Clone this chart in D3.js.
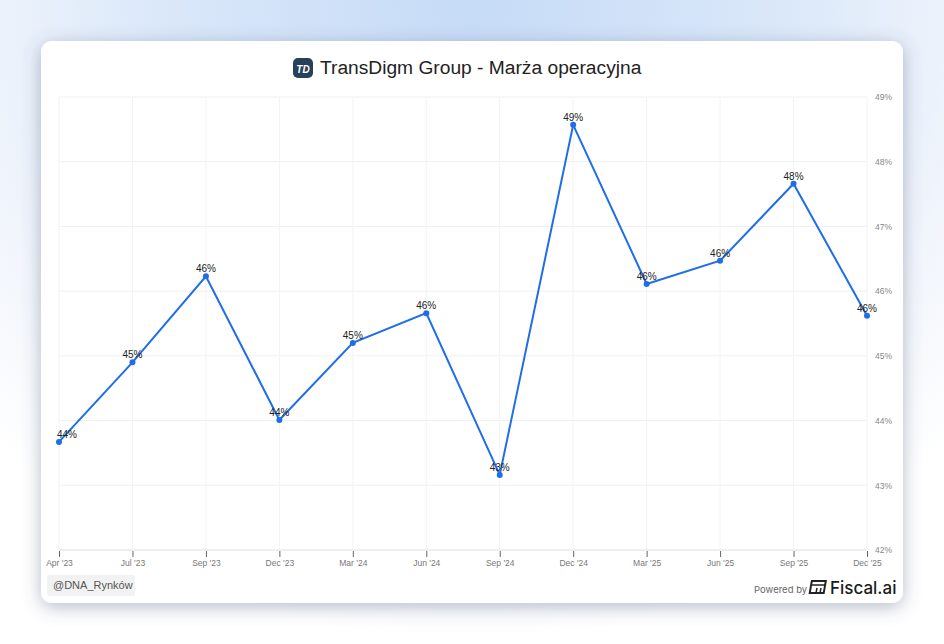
<!DOCTYPE html>
<html><head><meta charset="utf-8">
<script src="https://cdn.jsdelivr.net/npm/d3@7"></script>
<style>
html,body{margin:0;padding:0;width:944px;height:644px;overflow:hidden;font-family:Arial,"Liberation Sans",sans-serif;}
body{background:radial-gradient(ellipse 70% 100% at 50% 0%, #c6dbf7 0%, #d9e7f9 45%, #f1f5fc 78%, #ffffff 100%);}
</style></head><body>
<svg id="c" width="944" height="644"></svg>
<script>
const categories = ["Apr '23","Jul '23","Sep '23","Dec '23","Mar '24","Jun '24","Sep '24","Dec '24","Mar '25","Jun '25","Sep '25","Dec '25"];
const margins = [43.67,44.90,46.23,44.01,45.20,45.66,43.16,48.57,46.11,46.47,47.66,45.62];
const yTicks = [42,43,44,45,46,47,48,49];
const title = "TransDigm Group - Marża operacyjna";

const svg = d3.select("#c");
const defs = svg.append("defs");
const f = defs.append("filter").attr("id","sh").attr("x","-10%").attr("y","-10%").attr("width","120%").attr("height","130%");
f.append("feDropShadow").attr("dx",0).attr("dy",4).attr("stdDeviation",9).attr("flood-color","#4a5a78").attr("flood-opacity",0.4);

svg.append("rect").attr("x",41).attr("y",41).attr("width",862).attr("height",562).attr("rx",11).attr("fill","#fff").attr("filter","url(#sh)");

const x = d3.scalePoint().domain(categories).range([59,867]);
const y = d3.scaleLinear().domain([42,49]).range([550,97]);

const g = svg.append("g");
g.selectAll(".hg").data(yTicks).join("line").attr("x1",59).attr("x2",867).attr("y1",d=>y(d)).attr("y2",d=>y(d)).attr("stroke","#f0f0f0").attr("stroke-width",1);
g.selectAll(".vg").data(categories).join("line").attr("x1",d=>x(d)).attr("x2",d=>x(d)).attr("y1",97).attr("y2",550).attr("stroke","#f3f3f3").attr("stroke-width",1);
g.append("line").attr("x1",59).attr("x2",867).attr("y1",550).attr("y2",550).attr("stroke","#e6e6e6");

const xa = svg.append("g").attr("transform","translate(0,550)").call(d3.axisBottom(x).tickSize(6).tickPadding(4));
xa.select(".domain").remove();
xa.selectAll(".tick line").attr("stroke","#666").attr("transform","translate(0,1)");
xa.selectAll(".tick text").attr("fill","#777").attr("font-size","8.5px").attr("font-family","Arial, 'Liberation Sans', sans-serif");

const ya = svg.append("g").attr("transform","translate(867,0)").call(d3.axisRight(y).tickValues(yTicks).tickSize(0).tickPadding(8).tickFormat(d=>d+"%"));
ya.select(".domain").remove();
ya.selectAll(".tick text").attr("fill","#888").attr("font-size","8.5px").attr("font-family","Arial, 'Liberation Sans', sans-serif");

const pts = categories.map((c,i)=>({c,v:margins[i],i}));
svg.append("path").datum(pts).attr("fill","none").attr("stroke","#1f6ee8").attr("stroke-width",2)
  .attr("d", d3.line().x(d=>x(d.c)).y(d=>y(d.v)));
svg.selectAll(".pt").data(pts).join("circle").attr("cx",d=>x(d.c)).attr("cy",d=>y(d.v)).attr("r",3).attr("fill","#1f6ee8");
svg.selectAll(".lb").data(pts).join("text").attr("x",d=>x(d.c) + (d.i===0?8:0)).attr("y",d=>y(d.v)-4)
  .attr("text-anchor","middle").attr("font-size","10px").attr("fill","#222").attr("font-family","Arial, 'Liberation Sans', sans-serif")
  .text(d=>Math.round(d.v)+"%");

const tg = svg.append("g");
tg.append("rect").attr("x",293).attr("y",58).attr("width",20).attr("height",20).attr("rx",5).attr("fill","#27415a");
tg.append("text").attr("x",303).attr("y",72.5).attr("text-anchor","middle").attr("font-size","10px").attr("font-style","italic").attr("font-weight","bold").attr("fill","#fff").attr("font-family","Arial, sans-serif").text("TD");
tg.append("text").attr("x",320).attr("y",74).attr("font-size","19.2px").attr("fill","#222").attr("font-family","Arial, 'Liberation Sans', sans-serif").text(title);

svg.append("rect").attr("x",47).attr("y",575).attr("width",88).attr("height",21).attr("rx",2).attr("fill","#f2f2f2");
svg.append("text").attr("x",53).attr("y",589).attr("font-size","11px").attr("fill","#555").attr("font-family","Arial, 'Liberation Sans', sans-serif").text("@DNA_Rynków");

svg.append("text").attr("x",754).attr("y",593).attr("font-size","9.5px").attr("fill","#666").attr("font-family","Inter, Arial, sans-serif").text("Powered by");
const lg = svg.append("g").attr("transform","translate(811,580)");
lg.append("rect").attr("x",1).attr("y",1).attr("width",14).attr("height",12).attr("fill","none").attr("stroke","#222").attr("stroke-width",2).attr("transform","skewX(-10)");
lg.append("line").attr("x1",1).attr("x2",15).attr("y1",5).attr("y2",5).attr("stroke","#222").attr("stroke-width",1.5);
lg.append("line").attr("x1",6).attr("x2",5).attr("y1",8).attr("y2",13).attr("stroke","#222").attr("stroke-width",1.5);
lg.append("line").attr("x1",10).attr("x2",9).attr("y1",8).attr("y2",13).attr("stroke","#222").attr("stroke-width",1.5);
svg.append("text").attr("x",830).attr("y",594).attr("font-size","17px").attr("fill","#1a1a1a").attr("font-family","Inter, Arial, sans-serif").attr("font-weight","500").text("Fiscal.ai");
</script></body></html>
